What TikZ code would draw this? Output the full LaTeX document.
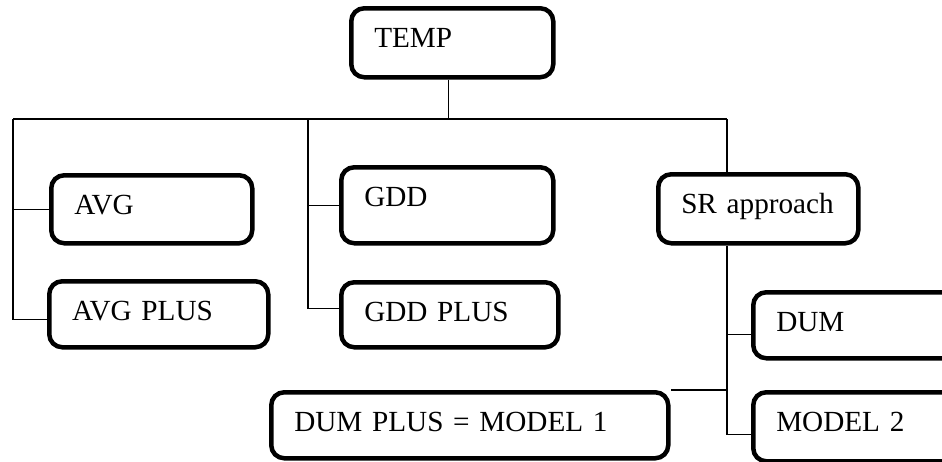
\documentclass[tikz,border=0pt]{standalone}
\usepackage{fontspec}
\setmainfont{Liberation Serif}
\usepackage{tikz}

\tikzset{
  blk/.style={draw, line width=2.25pt, rounded corners=6.5pt, anchor=north west,
    align=left, inner xsep=11.5pt, inner ysep=0pt, text height=19.5pt,
    font=\fontsize{14.6pt}{17pt}\selectfont},
  link/.style={line width=0.65pt}
}

\begin{document}
\begin{tikzpicture}[x=0.5pt, y=-0.5pt]
\useasboundingbox (0,0) rectangle (942,461);
% boxes
\node[blk, text width=78pt, text depth=15pt] (temp) at (349,6) {TEMP};
\node[blk, text width=77.5pt, text depth=14.5pt] (avg) at (49,173) {AVG};
\node[blk, text width=86.5pt, text depth=13.5pt] (avgplus) at (47,279) {AVG PLUS};
\node[blk, text width=83pt, text depth=18.5pt] (gdd) at (339,165) {GDD};
\node[blk, text width=85.5pt, text depth=13pt] (gddplus) at (339,280) {GDD PLUS};
\node[blk, text width=77pt, text depth=15pt] (sr) at (656,172) {SR approach};
\node[blk, text width=84.5pt, text depth=13.5pt] (dum) at (751,290) {DUM};
\node[blk, text width=84.5pt, text depth=15pt] (model2) at (751,390) {MODEL 2};
\node[blk, text width=175.5pt, text depth=13.5pt] (dumplus) at (269,390) {DUM PLUS = MODEL 1};
% connectors
\coordinate (busL) at (13,119);
\coordinate (busM) at (308,119);
\coordinate (busR) at (727,119);
\coordinate (dumin) at ([yshift=-4.5pt]dum.west);
\draw[link] ([xshift=-2pt]temp.south) -- ([xshift=-2pt]temp.south |- busL);
\draw[link] (busL) -- (busR);
\draw[link] (busL) |- ([yshift=-2.5pt]avgplus.west);
\draw[link] (busL |- avg.west) -- (avg.west);
\draw[link] (busM) |- ([yshift=3.25pt]gddplus.west);
\draw[link] (busM |- gdd.west) -- (gdd.west);
\draw[link] (busR) -- (busR |- sr.north);
\draw[link] (busR |- sr.south) |- ([yshift=-3.75pt]model2.west);
\draw[link] (busR |- dumin) -- (dumin);
\draw[link] (busR |- dumplus.north) -- (dumplus.north east);
\end{tikzpicture}
\end{document}
